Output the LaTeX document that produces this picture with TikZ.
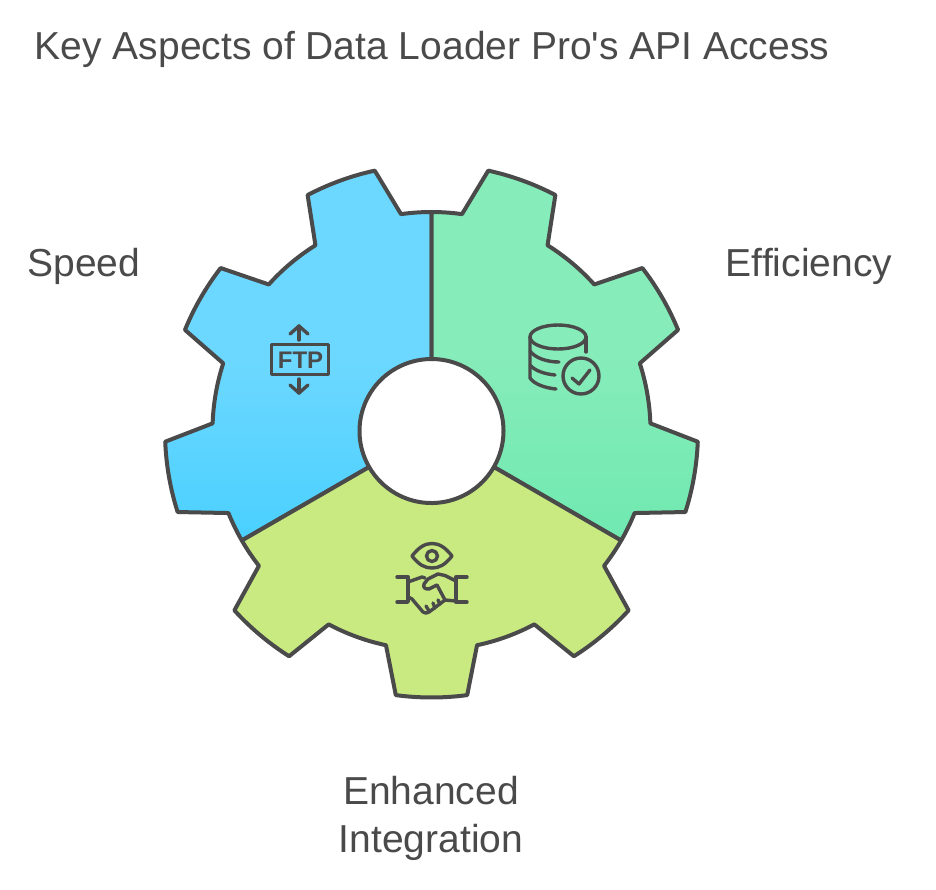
\documentclass[tikz,border=0pt]{standalone}
\usepackage{fontspec}
\setmainfont{Liberation Sans}
\definecolor{LineGrey}{HTML}{4A4A4A}
\definecolor{SpeedBlueTop}{HTML}{6DD8FF}
\definecolor{SpeedBlueEnd}{HTML}{4AD0FF}
\definecolor{EfficiencyGreenTop}{HTML}{86ECB9}
\definecolor{EfficiencyGreenEnd}{HTML}{70E9B1}
\definecolor{IntegrationLime}{HTML}{C8EA80}
\usetikzlibrary{positioning}
\tikzset{
   gearline/.style={draw=LineGrey,line width=4pt,line join=round},
   iconline/.style={draw=LineGrey,line width=3.4pt,line cap=round,line join=round},
   label/.style={text=LineGrey,font=\fontsize{39}{48}\selectfont,inner sep=0pt},
}
\newcommand{\gearpart}[2]{%
   \path[gearline,#2] (#1:219)
     \foreach \c in {20,60,100}{
       arc[start angle=#1+\c-20,end angle=#1+\c-12,radius=219]
       -- ({#1+\c-7.7}:266.5)
       arc[start angle=#1+\c-7.7,end angle=#1+\c+7.7,radius=266.5]
       -- ({#1+\c+12}:219)
       arc[start angle=#1+\c+12,end angle=#1+\c+20,radius=219]
     }
     -- ({#1+120}:72) arc[start angle=#1+120,end angle=#1,radius=72] -- cycle;}

\begin{document}
\begin{tikzpicture}[x=1pt,y=-1pt]
	\useasboundingbox (0,0) rectangle (936,889);

	\begin{scope}[shift={(431.5,431)},y=1pt]
		\gearpart{90}{top color=SpeedBlueTop,bottom color=SpeedBlueEnd,middle color=SpeedBlueTop}
		\gearpart{-30}{top color=EfficiencyGreenTop,bottom color=EfficiencyGreenEnd,middle color=EfficiencyGreenTop}
		\gearpart{210}{fill=IntegrationLime}
	\end{scope}

	\node[label] (title) at (432,49.5) {Key Aspects of Data Loader Pro\textquotesingle s API Access};
	\node[label] (speed) at (84,266) {Speed};
	\node[label] (efficiency) at (809,266) {Efficiency};
	\node[label,align=center] (integration) at (431,818) {Enhanced\\Integration};

	% FTP icon
	\draw[iconline] (271.5,344.5) rectangle (328.5,374.5);
	\node[text=LineGrey,font=\fontsize{24}{24}\selectfont\bfseries,inner sep=0pt] (ftp) at (300.5,360) {FTP};
	\draw[iconline] (299,340) -- (299,326);
	\draw[iconline] (290,334) -- (299,326) -- (308,334);
	\draw[iconline] (299,379) -- (299,393);
	\draw[iconline] (290,385) -- (299,393) -- (308,385);

	% database icon
	\draw[iconline] (558,337) ellipse [x radius=28,y radius=12];
	\draw[iconline] (530,337) -- (530,378) .. controls (534,384) and (545,388) .. (556,389);
	\draw[iconline] (586,337) -- (586,352);
	\draw[iconline] (530,351) .. controls (535,358) and (547,362) .. (559,362);
	\draw[iconline] (530,365) .. controls (535,371) and (545,374) .. (555,375);
	\draw[iconline] (581,376) circle [radius=18];
	\draw[iconline] (572,378) -- (579,384) -- (590,370);

	% eye and handshake icon
	\draw[iconline] (412,556) .. controls (419,547) and (425,543.5) .. (432,543.5) .. controls (439,543.5) and (445,547) .. (452,556) .. controls (445,565) and (439,568) .. (432,568) .. controls (425,568) and (419,565) .. (412,556) -- cycle;
	\draw[iconline] (432,556) circle [radius=5.5];
	\draw[iconline] (397,577) -- (408,577) -- (408,602) -- (397,602);
	\draw[iconline] (467,577) -- (456,577) -- (456,602) -- (467,602);
	\draw[iconline] (408,582) -- (422,577) -- (425,578);
	\draw[iconline] (456,581) -- (445,575.5) -- (438,574) -- (428,579) -- (424,584) .. controls (423,588) and (425,589) .. (429,589) -- (437,585) -- (445,600) -- (456,601);
	\draw[iconline] (408,597) -- (412,599) -- (423,612) .. controls (425,614) and (427,613) .. (429,612) -- (445,600);
	\draw[iconline] (429,611) -- (426,606);
	\draw[iconline] (435,608) -- (433,603);
	\draw[iconline] (440,604) -- (438,600);
\end{tikzpicture}
\end{document}
